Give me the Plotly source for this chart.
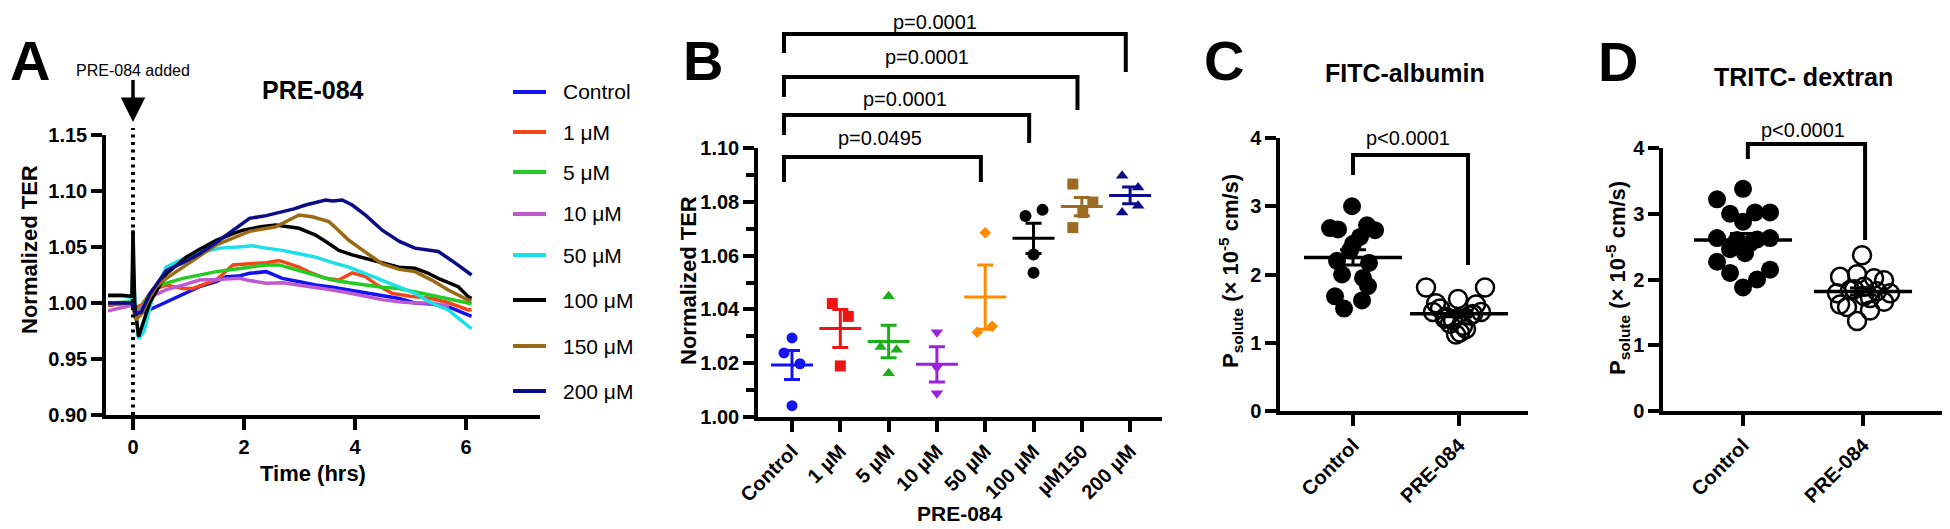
import numpy as np
import plotly.graph_objects as go

W, H = 1950, 529
OFF = 8  # page body margin of the browser
FONT = "Liberation Sans, Arial, Helvetica, sans-serif"

# ---------------- Panel A: time courses ----------------
a_names = ["Control", "1 μM", "5 μM", "10 μM", "50 μM", "100 μM", "150 μM", "200 μM"]
a_colors = ["#1212F2", "#F2461A", "#22CC22", "#C058D0", "#1CE0E8", "#000000", "#9A6A14", "#0C0C88"]

a_t_ctrl = [-0.45, -0.2, -0.02, 0.0, 0.05, 0.15, 0.3, 0.6, 0.9, 1.2, 1.5, 1.68, 1.9, 2.1, 2.4, 2.69, 3.0, 3.29, 3.6, 3.89, 4.2, 4.49, 4.8, 5.08, 5.38, 5.68, 5.9, 6.1]
a_v_ctrl = [0.998, 1.0, 1.0, 1.01, 0.993, 0.991, 0.994, 1.001, 1.008, 1.0146, 1.019, 1.0235, 1.024, 1.0265, 1.028, 1.022, 1.019, 1.016, 1.014, 1.0116, 1.009, 1.007, 1.004, 1.0, 0.999, 0.9967, 0.992, 0.988]

a_t_1 = [-0.45, -0.02, 0.05, 0.15, 0.36, 0.6, 0.9, 1.08, 1.3, 1.5, 1.8, 2.1, 2.4, 2.63, 2.8, 2.99, 3.2, 3.47, 3.71, 3.95, 4.19, 4.4, 4.67, 5.0, 5.38, 5.7, 6.04, 6.1]
a_v_1 = [0.998, 1.0, 0.996, 0.998, 1.012, 1.016, 1.013, 1.013, 1.017, 1.0205, 1.034, 1.035, 1.036, 1.038, 1.035, 1.032, 1.027, 1.022, 1.0205, 1.027, 1.0235, 1.016, 1.0086, 1.006, 1.004, 1.0, 0.9938, 0.994]

a_t_5 = [-0.45, -0.02, 0.05, 0.15, 0.3, 0.48, 0.9, 1.2, 1.5, 1.8, 2.1, 2.4, 2.63, 2.99, 3.3, 3.59, 3.9, 4.19, 4.49, 4.79, 5.08, 5.38, 5.7, 6.04, 6.1]
a_v_5 = [1.0, 1.001, 0.992, 0.996, 1.008, 1.016, 1.022, 1.025, 1.028, 1.03, 1.032, 1.034, 1.034, 1.029, 1.025, 1.0205, 1.018, 1.016, 1.014, 1.013, 1.01, 1.007, 1.004, 1.0, 0.999]

a_t_10 = [-0.45, -0.2, -0.02, 0.05, 0.15, 0.3, 0.6, 0.9, 1.2, 1.5, 1.92, 2.1, 2.4, 2.7, 2.99, 3.3, 3.59, 3.9, 4.19, 4.49, 4.79, 5.08, 5.38, 5.7]
a_v_10 = [0.993, 0.996, 0.998, 0.99, 0.995, 1.005, 1.012, 1.016, 1.0205, 1.021, 1.022, 1.02, 1.0176, 1.018, 1.016, 1.014, 1.0116, 1.009, 1.0057, 1.003, 1.001, 1.0, 1.0, 0.997]

a_t_50 = [-0.45, -0.2, -0.02, 0.0, 0.05, 0.1, 0.2, 0.35, 0.6, 0.96, 1.2, 1.56, 1.9, 2.16, 2.4, 2.69, 2.99, 3.29, 3.6, 3.89, 4.2, 4.49, 4.8, 5.08, 5.38, 5.68, 5.9, 6.1]
a_v_50 = [1.006, 1.006, 1.005, 1.032, 0.99, 0.968, 0.975, 1.005, 1.032, 1.041, 1.045, 1.049, 1.05, 1.051, 1.049, 1.047, 1.044, 1.041, 1.036, 1.032, 1.026, 1.0205, 1.014, 1.0086, 1.0, 0.9938, 0.985, 0.977]

a_t_100 = [-0.45, -0.2, -0.02, 0.0, 0.03, 0.1, 0.2, 0.3, 0.6, 0.96, 1.2, 1.5, 1.8, 1.98, 2.3, 2.57, 2.99, 3.29, 3.5, 3.71, 3.95, 4.19, 4.49, 4.79, 5.08, 5.3, 5.5, 5.86, 6.04, 6.1]
a_v_100 = [1.007, 1.007, 1.006, 1.065, 1.0, 0.97, 0.985, 1.0, 1.026, 1.041, 1.048, 1.056, 1.062, 1.065, 1.068, 1.0696, 1.0667, 1.0607, 1.054, 1.047, 1.043, 1.04, 1.036, 1.032, 1.031, 1.027, 1.022, 1.0146, 1.0057, 1.004]

a_t_150 = [-0.45, -0.02, 0.05, 0.15, 0.3, 0.42, 0.6, 0.9, 1.2, 1.5, 1.8, 2.1, 2.57, 2.8, 2.99, 3.23, 3.53, 3.7, 3.89, 4.2, 4.49, 4.8, 5.08, 5.4, 5.68, 6.04, 6.1]
a_v_150 = [1.0, 1.0, 0.985, 0.99, 1.005, 1.0146, 1.022, 1.032, 1.042, 1.052, 1.058, 1.064, 1.068, 1.074, 1.0786, 1.077, 1.0726, 1.065, 1.056, 1.045, 1.035, 1.03, 1.028, 1.02, 1.0116, 1.0027, 1.002]

a_t_200 = [-0.45, -0.02, 0.05, 0.15, 0.3, 0.6, 0.9, 1.2, 1.5, 1.8, 2.1, 2.4, 2.69, 2.9, 3.11, 3.3, 3.47, 3.6, 3.77, 3.95, 4.2, 4.49, 4.8, 5.08, 5.5, 5.74, 5.95, 6.1]
a_v_200 = [1.0, 1.0, 0.99, 0.992, 1.008, 1.029, 1.036, 1.044, 1.054, 1.065, 1.0756, 1.078, 1.0815, 1.084, 1.0875, 1.09, 1.092, 1.091, 1.092, 1.0875, 1.078, 1.065, 1.055, 1.049, 1.046, 1.038, 1.03, 1.025]

a_ticks = [0, 2, 4, 6]

# ---------------- Panel B: dose response scatter ----------------
b_categories = ["Control", "1 µM", "5 µM", "10 µM", "50 µM", "100 µM", "µM150", "200 µM"]
b_control = [1.0294, 1.0238, 1.0198, 1.0042]
b_1uM = [1.0422, 1.0374, 1.019]
b_5uM = [1.0449, 1.026, 1.025, 1.0163]
b_10uM = [1.0315, 1.0184, 1.0088]
b_50uM = [1.0685, 1.0315, 1.0337]
b_100uM = [1.0747, 1.077, 1.0604, 1.0536]
b_150uM = [1.0866, 1.0799, 1.076, 1.0704]
b_200uM = [1.0897, 1.0853, 1.076, 1.0785]
b_pvalues = ["p=0.0495", "p=0.0001", "p=0.0001", "p=0.0001"]
b_compared = [4, 5, 6, 7]

# ---------------- Panels C & D ----------------
cd_categories = ["Control", "PRE-084"]
c_control = [3.0, 2.68, 2.66, 2.72, 2.65, 2.55, 2.45, 2.2, 2.17, 2.0, 1.95, 1.83, 1.68, 1.62, 1.5, 2.35]
c_pre = [1.81, 1.81, 1.64, 1.58, 1.5, 1.56, 1.45, 1.38, 1.40, 1.45, 1.28, 1.15, 1.20, 1.12, 1.33, 1.25, 1.42, 1.35]
d_control = [3.38, 3.22, 3.0, 3.02, 3.02, 2.88, 2.63, 2.6, 2.61, 2.63, 2.46, 2.4, 2.27, 2.1, 2.15, 2.0, 1.88, 2.55]
d_pre = [2.37, 2.04, 2.08, 1.99, 2.02, 1.79, 1.79, 1.84, 1.89, 1.82, 1.58, 1.53, 1.62, 1.37, 1.66, 1.75, 1.85, 1.72]
cd_pvalue = "p<0.0001"

# ---------------- style (jitter in pixels, positions) ----------------
b_jit = [[0, -8, 8, 0], [-8, 8, 0], [0, -8, 8, 0], [0, 0, 0], [0, -8, 7], [-8, 9, 0, 0], [-9, 11, 1, -9], [-8, 8, -8, 8]]
c_jit_ctrl = [-1, -23, -15, 14, 22, 7, 0, -16, 16, -11, 10, 15, -18, 9, -9, -3]
c_jit_pre = [-33, 26, -1, -23, -19, 17, -26, -13, 11, 22, -9, 1, 7, -3, -6, 4, 14, -14]
d_jit_ctrl = [0, -26, -13, 12, 27, 0, -26, -6, 14, 27, -13, 2, -26, -13, 27, 14, 0, 7]
d_jit_pre = [-1, -23, -6, 21, 11, -26, 27, -13, 1, 14, -16, 7, -23, -6, 21, 1, -9, 7]

b_colors = ["#1414EE", "#EE1414", "#1AB01A", "#9A22DD", "#FF8A00", "#000000", "#9C6B22", "#0C0C8A"]
b_symbols = ["circle", "square", "triangle-up", "triangle-down", "diamond", "circle", "square", "triangle-up"]
b_sizes = [11, 11, 11, 11, 9, 12, 11, 11]

legend_rows_px = [92, 132, 172, 214, 255, 300, 346, 391]


def px(x):
    return (x - OFF) / W


def py(y):
    return 1 - (y - OFF) / H


fig = go.Figure()

# Panel A traces
a_t = [a_t_ctrl, a_t_1, a_t_5, a_t_10, a_t_50, a_t_100, a_t_150, a_t_200]
a_v = [a_v_ctrl, a_v_1, a_v_5, a_v_10, a_v_50, a_v_100, a_v_150, a_v_200]
for i, name in enumerate(a_names):
    fig.add_trace(go.Scatter(x=a_t[i], y=a_v[i], mode="lines", name=name, showlegend=False,
                             line=dict(color=a_colors[i], width=3.5), xaxis="x", yaxis="y"))

# Panel B
b_data = [b_control, b_1uM, b_5uM, b_10uM, b_50uM, b_100uM, b_150uM, b_200uM]
b_x0_px, b_x1_px = 758, 1162
b_range = [-0.704, 7.66]
b_ppu = (b_x1_px - b_x0_px) / (b_range[1] - b_range[0])
for i, vals in enumerate(b_data):
    xs = [i + j / b_ppu for j in b_jit[i]]
    fig.add_trace(go.Scatter(x=xs, y=vals, mode="markers", showlegend=False,
                             marker=dict(symbol=b_symbols[i], size=b_sizes[i], color=b_colors[i]),
                             xaxis="x2", yaxis="y2"))
    arr = np.array(vals)
    m = arr.mean()
    sem = arr.std(ddof=1) / np.sqrt(len(arr))
    fig.add_trace(go.Scatter(x=[i], y=[m], mode="markers", showlegend=False,
                             marker=dict(symbol="line-ew", size=30, color=b_colors[i],
                                         line=dict(color=b_colors[i], width=3)),
                             error_y=dict(type="data", array=[sem], color=b_colors[i], thickness=3, width=8),
                             xaxis="x2", yaxis="y2"))

# Panels C & D
c_x0_px, c_x1_px = 1280, 1528
c_range = [-0.689, 1.651]
c_ppu = (c_x1_px - c_x0_px) / (c_range[1] - c_range[0])
d_x0_px, d_x1_px = 1663, 1942
d_range = [-0.667, 1.658]
d_ppu = (d_x1_px - d_x0_px) / (d_range[1] - d_range[0])

for (ctrl, pre, jc, jp, ppu, xa, ya) in [
    (c_control, c_pre, c_jit_ctrl, c_jit_pre, c_ppu, "x3", "y3"),
    (d_control, d_pre, d_jit_ctrl, d_jit_pre, d_ppu, "x4", "y4"),
]:
    fig.add_trace(go.Scatter(x=[0 + j / ppu for j in jc], y=ctrl, mode="markers", showlegend=False,
                             marker=dict(symbol="circle", size=18, color="black"), xaxis=xa, yaxis=ya))
    fig.add_trace(go.Scatter(x=[1 + j / ppu for j in jp], y=pre, mode="markers", showlegend=False,
                             marker=dict(symbol="circle-open", size=18, color="black", line=dict(width=2.5)),
                             xaxis=xa, yaxis=ya))
    for k, vals in enumerate([ctrl, pre]):
        arr = np.array(vals)
        m = arr.mean()
        sem = arr.std(ddof=1) / np.sqrt(len(arr))
        fig.add_trace(go.Scatter(x=[k], y=[m], mode="markers", showlegend=False,
                                 marker=dict(symbol="line-ew", size=70, color="black",
                                             line=dict(color="black", width=3.5)),
                                 error_y=dict(type="data", array=[sem], color="black", thickness=3, width=13),
                                 xaxis=xa, yaxis=ya))

axis_common = dict(showline=True, linewidth=3.5, linecolor="black", ticks="outside", ticklen=11,
                   tickwidth=3.5, tickcolor="black", showgrid=False, zeroline=False, automargin=False,
                   tickfont=dict(size=20, family=FONT, color="black", weight="bold"))

a_x0_px, a_x1_px = 106, 540
a_ppu = (244 - 133) / 2.0
a_range = [(a_x0_px - 133) / a_ppu, (a_x1_px - 133) / a_ppu]

fig.update_layout(
    template="none",
    width=W, height=H, margin=dict(l=0, r=0, t=0, b=0, pad=0, autoexpand=False),
    paper_bgcolor="white", plot_bgcolor="white",
    font=dict(family=FONT, color="black"),
    showlegend=False,
    xaxis=dict(axis_common, domain=[px(a_x0_px), px(a_x1_px)], range=a_range, tickvals=a_ticks,
               anchor="y"),
    yaxis=dict(axis_common, domain=[py(415), py(135)], range=[0.9, 1.15], dtick=0.05, tickformat=".2f",
               anchor="x"),
    xaxis2=dict(axis_common, domain=[px(b_x0_px), px(b_x1_px)], range=b_range,
                tickvals=list(range(len(b_categories))), ticktext=b_categories, tickangle=-45, anchor="y2"),
    yaxis2=dict(axis_common, domain=[py(417), py(148)], range=[1.0, 1.1], dtick=0.02, tickformat=".2f",
                minor=dict(dtick=0.01, ticks="outside", ticklen=8, tickwidth=3.5, tickcolor="black"),
                anchor="x2"),
    xaxis3=dict(axis_common, domain=[px(c_x0_px), px(c_x1_px)], range=c_range,
                tickvals=[0, 1], ticktext=cd_categories, tickangle=-45, anchor="y3"),
    yaxis3=dict(axis_common, domain=[py(411), py(138)], range=[0, 4], dtick=1, anchor="x3"),
    xaxis4=dict(axis_common, domain=[px(d_x0_px), px(d_x1_px)], range=d_range,
                tickvals=[0, 1], ticktext=cd_categories, tickangle=-45, anchor="y4"),
    yaxis4=dict(axis_common, domain=[py(411), py(148)], range=[0, 4], dtick=1, anchor="x4"),
)

ann = []


def txt(x, y, s, size, bold=False, angle=0, xanchor="center"):
    ann.append(dict(x=px(x), y=py(y), xref="paper", yref="paper", text=s, showarrow=False,
                    xanchor=xanchor, yanchor="middle", textangle=angle,
                    font=dict(size=size, family=FONT, color="black", weight="bold" if bold else "normal")))


# Panel letters
txt(30, 60, "A", 56, True)
txt(703, 61, "B", 56, True)
txt(1224, 60, "C", 56, True)
txt(1618, 62, "D", 56, True)

# Titles
txt(313, 90, "PRE-084", 25, True)
txt(1405, 73, "FITC-albumin", 25, True)
txt(1803, 77, "TRITC- dextran", 25, True)

# Axis titles
txt(313, 473, "Time (hrs)", 22, True)
txt(30, 250, "Normalized TER", 22, True, -90)
txt(960, 513, "PRE-084", 21, True)
txt(688, 281, "Normalized TER", 22, True, -90)
ytitle = "P<sub>solute</sub> (× 10<sup>-5</sup> cm/s)"
txt(1230, 271, ytitle, 22, True, -90)
txt(1617, 278, ytitle, 22, True, -90)

# Legend for panel A (drawn by hand to match spacing)
shapes = []
for name, col, yrow in zip(a_names, a_colors, legend_rows_px):
    shapes.append(dict(type="line", xref="paper", yref="paper", x0=px(513), x1=px(546),
                       y0=py(yrow), y1=py(yrow), line=dict(color=col, width=4)))
    txt(561, yrow, name, 21, False, 0, "left")

# PRE-084 added arrow
ann.append(dict(x=0, y=py(122), xref="x", yref="paper", text="PRE-084 added", showarrow=True,
                ax=0, ay=-52, arrowhead=2, arrowsize=1.4, arrowwidth=3.5, arrowcolor="black",
                font=dict(size=16, family=FONT, color="black")))

# B p-values
b_text_pos = [(880, 138), (905, 99), (927, 57), (935, 22)]
for (tx, ty), s in zip(b_text_pos, b_pvalues):
    txt(tx, ty, s, 20)
txt(1408, 138, cd_pvalue, 20)
txt(1803, 130, cd_pvalue, 20)

fig.update_layout(annotations=ann)

# dotted line at t = 0
shapes.append(dict(type="line", xref="x", yref="paper", x0=0, x1=0, y0=py(415), y1=py(128),
                   line=dict(color="black", width=4, dash="3px,4.5px")))

b_brackets = [  # (top y px, left leg bottom px, right leg bottom px)
    (157, 182, 182), (115, 135, 143), (77, 97, 110), (34, 53, 72)]
for (ytop, yl, yr), ci in zip(b_brackets, b_compared):
    xl = -0.166
    xr = ci - 0.09
    shapes.append(dict(type="path", xref="x2", yref="paper",
                       path=f"M {xl},{py(yl)} L {xl},{py(ytop)} L {xr},{py(ytop)} L {xr},{py(yr)}",
                       line=dict(color="black", width=4)))
shapes.append(dict(type="path", xref="x3", yref="paper",
                   path=f"M 0,{py(175)} L 0,{py(155)} L 1.085,{py(155)} L 1.085,{py(265)}",
                   line=dict(color="black", width=4)))
shapes.append(dict(type="path", xref="x4", yref="paper",
                   path=f"M 0.04,{py(159)} L 0.04,{py(144)} L 1.017,{py(144)} L 1.017,{py(240)}",
                   line=dict(color="black", width=4)))
fig.update_layout(shapes=shapes)

fig.write_html("out.html")
